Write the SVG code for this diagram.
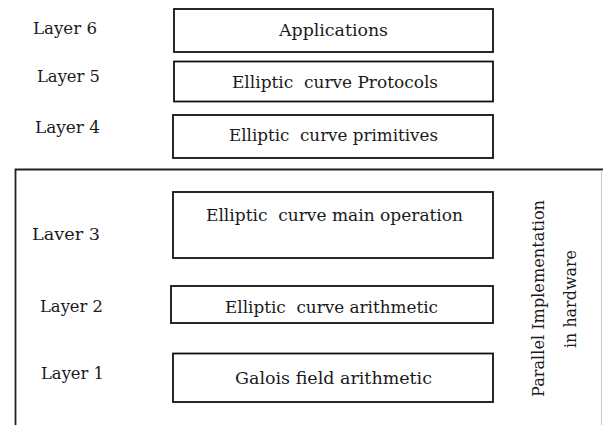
<svg xmlns="http://www.w3.org/2000/svg" width="603" height="425" viewBox="0 0 603 425">
<style>
.box{fill:#fff;stroke:#111;stroke-width:1.8}
.t{font-family:"DejaVu Serif","Liberation Serif",serif;font-size:16.5px;fill:#1a1a1a}
</style>
<rect x="0" y="0" width="603" height="425" fill="#fff"/>
<g id="frame">
<path d="M15.5,425 V169.5 H603" fill="none" stroke="#222" stroke-width="1.8"/>
<line x1="601.5" y1="170" x2="601.5" y2="425" stroke="#c8c8c8" stroke-width="1"/>
</g>
<g id="layer6">
<text class="t" x="33" y="34" textLength="64" lengthAdjust="spacingAndGlyphs">Layer 6</text>
<rect class="box" x="174" y="9" width="319" height="43"/>
<text class="t" x="279" y="36" textLength="109" lengthAdjust="spacingAndGlyphs">Applications</text>
</g>
<g id="layer5">
<text class="t" x="37" y="82" textLength="63" lengthAdjust="spacingAndGlyphs">Layer 5</text>
<rect class="box" x="174" y="61.5" width="319" height="40"/>
<text class="t" x="232" y="88" textLength="206" lengthAdjust="spacingAndGlyphs" xml:space="preserve">Elliptic  curve Protocols</text>
</g>
<g id="layer4">
<text class="t" x="35" y="133" textLength="65" lengthAdjust="spacingAndGlyphs">Layer 4</text>
<rect class="box" x="173" y="115" width="320" height="43"/>
<text class="t" x="229" y="141" textLength="209" lengthAdjust="spacingAndGlyphs" xml:space="preserve">Elliptic  curve primitives</text>
</g>
<g id="layer3">
<text class="t" x="32" y="240" textLength="68" lengthAdjust="spacingAndGlyphs">Laver 3</text>
<rect class="box" x="173" y="192" width="320" height="66"/>
<text class="t" x="206" y="221" textLength="257" lengthAdjust="spacingAndGlyphs" xml:space="preserve">Elliptic  curve main operation</text>
</g>
<g id="layer2">
<text class="t" x="40" y="312" textLength="63" lengthAdjust="spacingAndGlyphs">Layer 2</text>
<rect class="box" x="171" y="286" width="322" height="37"/>
<text class="t" x="225" y="313" textLength="213" lengthAdjust="spacingAndGlyphs" xml:space="preserve">Elliptic  curve arithmetic</text>
</g>
<g id="layer1">
<text class="t" x="41" y="379" textLength="63" lengthAdjust="spacingAndGlyphs">Layer 1</text>
<rect class="box" x="173" y="353.5" width="320" height="48.5"/>
<text class="t" x="235" y="384" textLength="197" lengthAdjust="spacingAndGlyphs">Galois field arithmetic</text>
</g>
<g id="side-label">
<text class="t" transform="translate(544,397) rotate(-90)" x="0" y="0" textLength="197" lengthAdjust="spacingAndGlyphs">Parallel Implementation</text>
<text class="t" transform="translate(576,348) rotate(-90)" x="0" y="0" textLength="98" lengthAdjust="spacingAndGlyphs">in hardware</text>
</g>
<g id="connectors"></g>
</svg>
